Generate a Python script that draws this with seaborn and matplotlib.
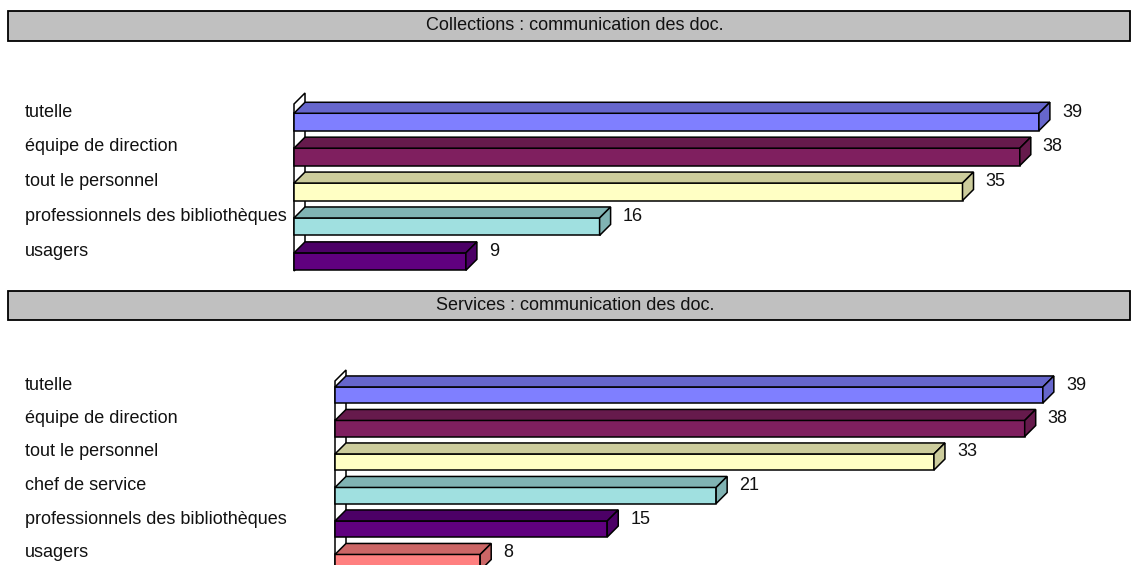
import matplotlib
matplotlib.use("Agg")
import matplotlib.pyplot as plt
import matplotlib.transforms as mtransforms
from matplotlib.patches import Polygon, Rectangle
import seaborn as sns
import pandas as pd

# ---------------- data ----------------
title1 = "Collections : communication des doc."
cats1 = ["tutelle", "équipe de direction", "tout le personnel",
         "professionnels des bibliothèques", "usagers"]
vals1 = [39, 38, 35, 16, 9]

title2 = "Services : communication des doc."
cats2 = ["tutelle", "équipe de direction", "tout le personnel",
         "chef de service", "professionnels des bibliothèques", "usagers"]
vals2 = [39, 38, 33, 21, 15, 8]

front_colors1 = ["#7F7FFF", "#7F1F5F", "#FFFFC4", "#A0E0E0", "#60007F"]
front_colors2 = ["#7F7FFF", "#7F1F5F", "#FFFFC4", "#A0E0E0", "#60007F", "#FF8080"]
dark_colors1 = ["#6666CC", "#661A4C", "#CCCC9C", "#80B3B3", "#4C0066"]
dark_colors2 = ["#6666CC", "#661A4C", "#CCCC9C", "#80B3B3", "#4C0066", "#CC6666"]

# ---------------- style ----------------
sns.set_theme(style="white")
plt.rcParams["font.family"] = ["Liberation Sans", "DejaVu Sans"]
FS = 13

W, H = 1131, 565
fig = plt.figure(figsize=(W / 100, H / 100), dpi=100)


def rect(left, top, right, bottom):
    return [left / W, (H - bottom) / H, (right - left) / W, (bottom - top) / H]


def title_bar(top, bottom, text):
    fig.patches.append(Rectangle((8 / W, (H - bottom) / H), (1130 - 8) / W,
                                 (bottom - top) / H, transform=fig.transFigure,
                                 facecolor="#C0C0C0", edgecolor="black",
                                 linewidth=1.3, zorder=0))
    fig.text(575 / W, (H - (top + bottom) / 2) / H, text, ha="center",
             va="center", fontsize=FS, color="#111111")


def panel(ax, cats, vals, fronts, darks, ylim, width):
    df = pd.DataFrame({"cat": cats, "val": vals})
    sns.barplot(data=df, x="val", y="cat", hue="cat", palette=fronts,
                orient="h", width=width, legend=False, ax=ax,
                edgecolor="black", linewidth=1.1, saturation=1)
    ax.set_xlim(0, 40)
    ax.set_ylim(*ylim)
    ax.set_xlabel("")
    ax.set_ylabel("")
    ax.set_xticks([])
    ax.set_yticks([])
    for s in ax.spines.values():
        s.set_visible(False)
    ax.patch.set_alpha(0)

    bbox = ax.get_window_extent()
    ppx = bbox.width / 40.0
    ppy = bbox.height / abs(ylim[0] - ylim[1])
    dxp, dyp = 11, 11
    dx, dy = dxp / ppx, dyp / ppy

    # back wall
    yb, yt = ylim
    ax.add_patch(Polygon([(0, yb), (0, yt), (dx, yt - dy), (dx, yb - dy)],
                         closed=True, facecolor="white", edgecolor="black",
                         linewidth=1.1, zorder=0.5, clip_on=False))

    for p in list(ax.patches):
        if not isinstance(p, Rectangle):
            continue
        x0, y0, w, h = p.get_x(), p.get_y(), p.get_width(), p.get_height()
        idx = int(round(y0 + h / 2))
        p.set_zorder(2)
        p.set_clip_on(False)
        dark = darks[idx]
        top = Polygon([(x0, y0), (x0 + w, y0), (x0 + w + dx, y0 - dy),
                       (x0 + dx, y0 - dy)], closed=True, facecolor=dark,
                      edgecolor="black", linewidth=1.1, zorder=2,
                      clip_on=False)
        side = Polygon([(x0 + w, y0), (x0 + w, y0 + h),
                        (x0 + w + dx, y0 + h - dy), (x0 + w + dx, y0 - dy)],
                       closed=True, facecolor=dark, edgecolor="black",
                       linewidth=1.1, zorder=2, clip_on=False)
        ax.add_patch(top)
        ax.add_patch(side)

    val_tr = mtransforms.offset_copy(ax.transData, fig=fig, x=dxp + 12,
                                     y=10, units="dots")
    lab_tr = mtransforms.offset_copy(
        mtransforms.blended_transform_factory(fig.transFigure, ax.transData),
        fig=fig, x=0, y=10, units="dots")
    for i, (c, v) in enumerate(zip(cats, vals)):
        ax.text(v, i, str(v), transform=val_tr, ha="left", va="center",
                fontsize=FS, color="#111111", clip_on=False)
        ax.text(25 / W, i, c, transform=lab_tr, ha="left", va="center",
                fontsize=FS, color="#111111", clip_on=False)


title_bar(11, 41, title1)
title_bar(291, 320, title2)

ax1 = fig.add_axes(rect(294, 104, 294 + 19.1 * 40, 271))
panel(ax1, cats1, vals1, front_colors1, dark_colors1,
      ((271 - 122) / 34.9, (104 - 122) / 34.9), 0.5)

ax2 = fig.add_axes(rect(335, 381, 335 + 18.15 * 40, 575))
panel(ax2, cats2, vals2, front_colors2, dark_colors2,
      ((575 - 395) / 33.5, (381 - 395) / 33.5), 0.48)

fig.savefig("out.png", dpi=100, facecolor="white")
